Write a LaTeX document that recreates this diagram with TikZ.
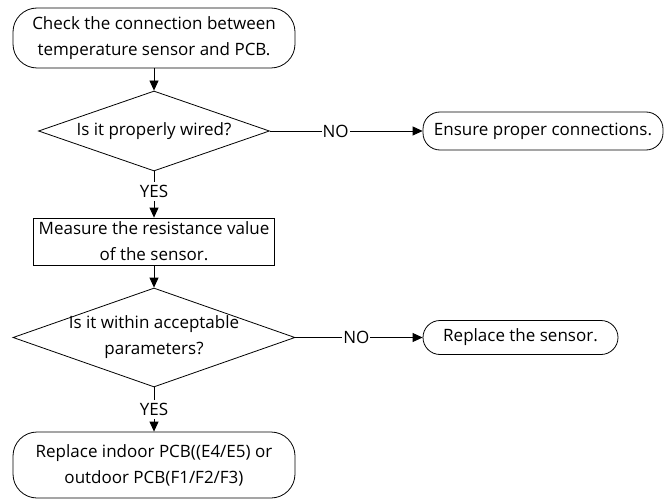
\documentclass[tikz,border=0pt]{standalone}
\usepackage{fontspec}
\setmainfont{Open Sans}
\usetikzlibrary{shapes,positioning,arrows.meta}

\begin{document}
\begin{tikzpicture}[x=1pt, y=1pt, line width=0.8pt,
        every node/.style={font=\fontsize{17}{26}\selectfont},
        term/.style={draw, rounded corners=24pt, align=center, inner sep=0pt},
        smallterm/.style={draw, rounded corners=17pt, align=center, inner sep=0pt},
        stepbox/.style={draw, rectangle, align=center, inner sep=0pt},
        decision/.style={draw, diamond, inner sep=0pt},
        tag/.style={fill=white, inner xsep=1pt, inner ysep=3pt},
        flow/.style={-{Triangle[length=10pt, width=9pt]}}]
        \useasboundingbox (0, 0) rectangle (664, -500);
        \node [term, minimum width=282pt, minimum height=60pt] (CHK) at (154, -38) {Check the connection between\\temperature sensor and PCB.};
        \node [decision, minimum width=231pt, minimum height=80pt] (Q1) at (154, -131) {};
        \node (Q1T) at (Q1) {Is it properly wired?};
        \node [smallterm, minimum width=240pt, minimum height=38pt] (ENS) at (543, -131) {Ensure proper connections.};
        \node [stepbox, minimum width=241pt, minimum height=47pt] (MEAS) at (154, -241.5) {Measure the resistance value\\of the sensor.};
        \node [decision, minimum width=282pt, minimum height=99pt] (Q2) at (154, -337.5) {};
        \node [align=center] (Q2T) at (Q2) {Is it within acceptable\\parameters?};
        \node [smallterm, minimum width=195pt, minimum height=34pt] (REP) at (520.5, -337.5) {Replace the sensor.};
        \node [term, minimum width=282pt, minimum height=66pt] (PCB) at (154, -465) {Replace indoor PCB((E4/E5) or\\outdoor PCB(F1/F2/F3)};
        \draw [flow] (CHK) -- (Q1); 
        \draw [flow] (Q1.east) -- node [tag, pos=0.43] {NO} (ENS.west); 
        \draw [flow] (Q1.south) -- node [tag, pos=0.43] {YES} (MEAS.north); 
        \draw [flow] (MEAS) -- (Q2); 
        \draw [flow] (Q2.east) -- node [tag, pos=0.48] {NO} (REP.west); 
        \draw [flow] (Q2.south) -- node [tag, pos=0.5] {YES} (PCB.north); 
\end{tikzpicture}
\end{document}
